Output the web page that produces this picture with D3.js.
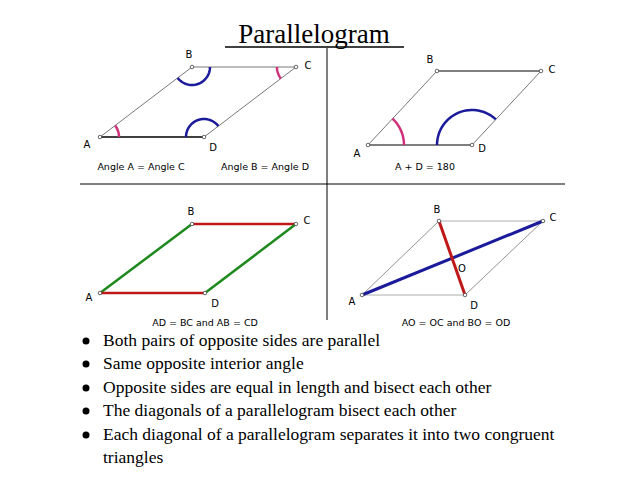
<!DOCTYPE html>
<html><head><meta charset="utf-8">
<script src="https://cdn.jsdelivr.net/npm/d3@7"></script>
<style>body{margin:0;background:#fff}</style></head>
<body><svg id="c" width="638" height="479"></svg>
<script>
// vertices of the four parallelograms (A, B, C, D)
const panelTL = [[100,137],[192,67],[296,67],[204,137]];
const panelTR = [[368,145],[437,71],[541,71],[472,145]];
const panelBL = [[100,293],[192,224],[296,224],[205,293]];
const panelBR = [[362,295],[439,221],[543,221],[465,295]];
const vertexNames = ["A","B","C","D"];
const captions = [
  {t:"Angle A = Angle C", x:141, y:170},
  {t:"Angle B = Angle D", x:265, y:170},
  {t:"A + D = 180", x:425, y:170},
  {t:"AD = BC  and  AB = CD", x:205, y:326},
  {t:"AO = OC  and  BO = OD", x:456, y:326}
];
const bullets = [
  "Both pairs of opposite sides are parallel",
  "Same opposite interior angle",
  "Opposite sides are equal in length and bisect each other",
  "The diagonals of a parallelogram bisect each other",
  "Each diagonal of a parallelogram separates it into two congruent",
  "triangles"
];

const svg = d3.select("#c");
const line = d3.line();
const pink = "#d0307a", blue = "#1a1a9a", green = "#1e8a1e", red = "#c01818";

svg.append("text").attr("x",314).attr("y",43).attr("text-anchor","middle")
  .attr("font-family","Liberation Serif").attr("font-size",27).text("Parallelogram");
svg.append("line").attr("x1",225).attr("x2",404).attr("y1",47).attr("y2",47).attr("stroke","#000").attr("stroke-width",1.5);

// cross dividers
svg.append("line").attr("x1",80).attr("x2",565).attr("y1",184).attr("y2",184).attr("stroke","#000");
svg.append("line").attr("x1",327).attr("x2",327).attr("y1",48).attr("y2",320).attr("stroke","#000");

function ang(p,q){ return Math.atan2(q[1]-p[1], q[0]-p[0]); }
function arcAt(P, i, r, color){
  const v = P[i], a = P[(i+3)%4], b = P[(i+1)%4];
  let a1 = ang(v,a), a2 = ang(v,b);
  let d = a2 - a1;
  while (d > Math.PI) d -= 2*Math.PI;
  while (d < -Math.PI) d += 2*Math.PI;
  const pts = d3.range(0, 31).map(k => {
    const t = a1 + d*k/30;
    return [v[0] + r*Math.cos(t), v[1] + r*Math.sin(t)];
  });
  svg.append("path").attr("d", line(pts)).attr("fill","none").attr("stroke",color).attr("stroke-width",2.5);
}
function sides(P, colors, widths){
  for (let i=0;i<4;i++){
    svg.append("path").attr("d", line([P[i], P[(i+1)%4]])).attr("stroke", colors[i])
      .attr("stroke-width", widths[i]).attr("fill","none");
  }
}
function dots(P){
  svg.selectAll(null).data(P).enter().append("circle")
    .attr("cx",d=>d[0]).attr("cy",d=>d[1]).attr("r",1.8)
    .attr("fill","#fff").attr("stroke","#444").attr("stroke-width",0.8);
}
function labels(P, offs){
  svg.selectAll(null).data(P).enter().append("text")
    .attr("x",(d,i)=>d[0]+offs[i][0]).attr("y",(d,i)=>d[1]+offs[i][1])
    .attr("font-family","DejaVu Sans").attr("font-size",10).attr("text-anchor","middle")
    .text((d,i)=>vertexNames[i]);
}

// top-left
sides(panelTL, ["#555","#555","#555","#000"], [0.8,0.8,0.8,1.3]);
arcAt(panelTL,0,19,pink); arcAt(panelTL,2,19,pink);
arcAt(panelTL,1,18,blue); arcAt(panelTL,3,18,blue);
dots(panelTL);
labels(panelTL, [[-13,11],[-3,-9],[12,2],[9,14]]);

// top-right
sides(panelTR, ["#555","#000","#555","#000"], [0.8,1.1,0.8,1.1]);
arcAt(panelTR,0,36,pink); arcAt(panelTR,3,35,blue);
dots(panelTR);
labels(panelTR, [[-11,12],[-7,-8],[11,2],[10,7]]);

// bottom-left
sides(panelBL, [green,red,green,red], [2.5,2.5,2.5,2.5]);
dots(panelBL);
labels(panelBL, [[-11,8],[-1,-9],[11,0],[10,14]]);

// bottom-right
sides(panelBR, ["#777","#999","#777","#999"], [0.8,0.8,0.8,0.8]);
svg.append("path").attr("d", line([panelBR[0],panelBR[2]])).attr("stroke",blue).attr("stroke-width",3);
svg.append("path").attr("d", line([panelBR[1],panelBR[3]])).attr("stroke",red).attr("stroke-width",3);
dots(panelBR);
labels(panelBR, [[-10,10],[-2,-8],[10,0],[9,14]]);
svg.append("text").attr("x",462).attr("y",272).attr("font-family","DejaVu Sans").attr("font-size",10)
  .attr("text-anchor","middle").text("O");

svg.selectAll(null).data(captions).enter().append("text")
  .attr("x",d=>d.x).attr("y",d=>d.y).attr("text-anchor","middle")
  .attr("font-family","DejaVu Sans").attr("font-size",9.5).text(d=>d.t);

// bullet list
const by = [346, 369, 393, 416, 440, 463];
svg.selectAll(null).data(bullets).enter().append("text")
  .attr("x",103).attr("y",(d,i)=>by[i])
  .attr("font-family","Liberation Serif").attr("font-size",17.5).text(d=>d);
svg.selectAll(null).data(bullets.slice(0,5)).enter().append("circle")
  .attr("cx",86).attr("cy",(d,i)=>by[i]-5).attr("r",3.5).attr("fill","#000");
</script></body></html>
